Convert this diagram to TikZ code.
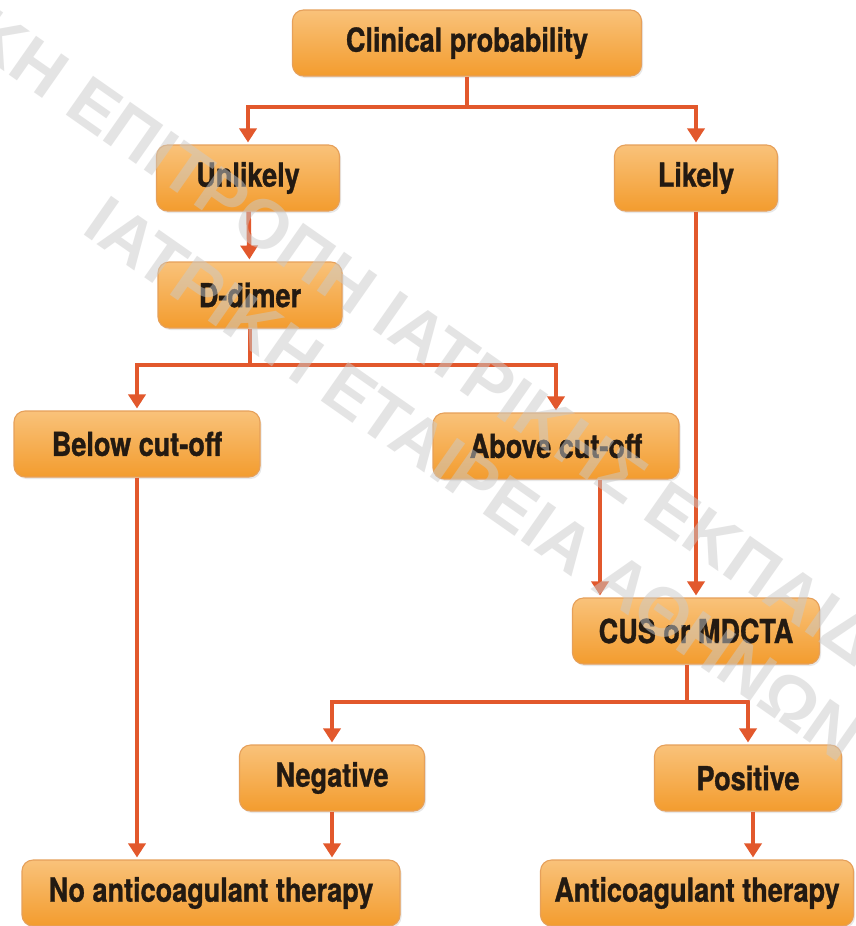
\documentclass[tikz,border=0pt]{standalone}
\usepackage{fontspec}
\usetikzlibrary{arrows.meta,shadows}
\newfontfamily\boxfont[FakeStretch=0.82,FakeBold=1]{TeX Gyre Heros}
\newfontfamily\wmfont{Liberation Sans}
\definecolor{boxtop}{HTML}{F9C27A}
\definecolor{boxmid}{HTML}{F6A435}
\definecolor{boxbot}{HTML}{F39C2E}
\definecolor{boxedge}{HTML}{E6A05A}
\definecolor{txt}{HTML}{231A12}
\definecolor{link}{HTML}{E2582C}
\definecolor{wmgray}{HTML}{CACACA}
\tikzset{
  box/.style={rounded corners=11pt, draw=boxedge, line width=1.1pt,
    top color=boxtop, middle color=boxmid, bottom color=boxbot,
    minimum height=66pt, inner sep=0pt, text=txt,
    font=\boxfont\bfseries\fontsize{33}{33}\selectfont,
    drop shadow={opacity=0.18, shadow xshift=1.5pt, shadow yshift=-2pt}},
  conn/.style={draw=link, line width=4.6pt},
  arr/.style={conn, -{Triangle[width=17pt,length=14pt]}, shorten >=2pt},
  wm/.style={font=\wmfont\bfseries\fontsize{69}{69}\selectfont, text=wmgray,
    text opacity=0.5, inner sep=0pt, rotate=-35}
}
\begin{document}
\begin{tikzpicture}[x=1pt,y=-1pt]
\fill[white] (0,0) rectangle (855,926);
\useasboundingbox (0,0) rectangle (855,926);

% boxes
\node[box, minimum width=349pt] (cp)   at (467,43)  {Clinical probability};
\node[box, minimum width=183pt] (unl)  at (248,178) {Unlikely};
\node[box, minimum width=163pt] (lik)  at (696,178) {Likely};
\node[box, minimum width=184pt] (ddim) at (250,295) {D-dimer};
\node[box, minimum width=246pt] (bel)  at (137,444) {Below cut-off};
\node[box, minimum width=246pt] (abv)  at (556,446) {Above cut-off};
\node[box, minimum width=247pt] (cus)  at (696,631) {CUS or MDCTA};
\node[box, minimum width=185pt] (neg)  at (332,778) {Negative};
\node[box, minimum width=187pt] (pos)  at (748,778) {Positive};
\node[box, minimum width=378pt] (noac) at (211,893) {No anticoagulant therapy};
\node[box, minimum width=313pt] (ac)   at (697,893) {Anticoagulant therapy};

% junction points of the branching connectors
\coordinate (j1) at (467,107);
\coordinate (j2) at (250,365);
\coordinate (j3) at (687,702);

% connectors
\draw[conn] (cp.south) -- (j1);
\draw[arr] (j1) -| (unl);
\draw[arr] (j1) -| (lik);
\draw[arr] (unl) -- (ddim);
\draw[conn] (ddim.south) -- (j2);
\draw[arr] (j2) -| (bel);
\draw[arr] (j2) -| (abv);
\draw[arr] (lik.south) -- (lik.south |- cus.north);
\draw[arr] ([xshift=44pt]abv.south) -- ([xshift=44pt]abv.south |- cus.north);
\draw[arr] (bel.south) -- (bel.south |- noac.north);
\draw[conn] (cus.south -| j3) -- (j3);
\draw[arr] (j3) -| (neg);
\draw[arr] (j3) -| (pos);
\draw[arr] (neg) -- (neg |- noac.north);
\draw[arr] ([xshift=5pt]pos.south) -- ([xshift=5pt]pos.south |- ac.north);

% watermark lettering
\begin{scope}
\clip (0,0) rectangle (855,926);
\node[wm, anchor=base east] (wm0) at (46,101) {ΝΙΚΗ};
\node[wm, anchor=base west] (wm1) at (62,112) {ΕΠΙΤΡΟΠΗ ΙΑΤΡΙΚΗΣ ΕΚΠΑΙΔΕΥΣΗΣ};
\node[wm, anchor=base west] (wm2) at (80,232) {ΙΑΤΡΙΚΗ ΕΤΑΙΡΕΙΑ ΑΘΗΝΩΝ};
\end{scope}
\end{tikzpicture}
\end{document}
